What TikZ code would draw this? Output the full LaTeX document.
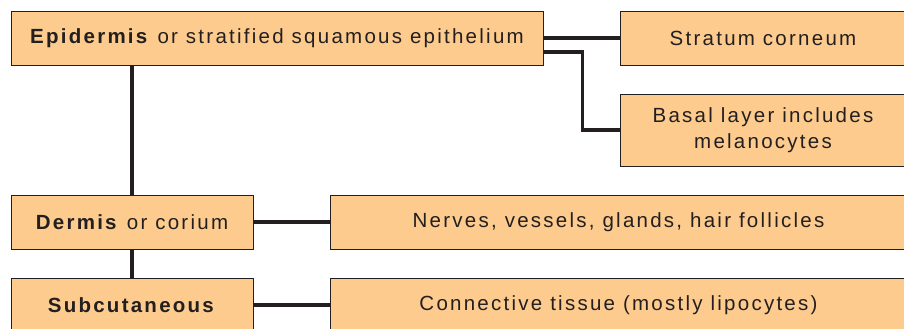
\documentclass[tikz,border=0pt]{standalone}
\usepackage{fontspec}
\setmainfont{Liberation Sans}[LetterSpace=11]
\usepackage{xcolor}
\usetikzlibrary{calc}
\definecolor{skinfill}{HTML}{FCCB8D}
\definecolor{inkgrey}{HTML}{231F20}

\begin{document}
\begin{tikzpicture}[every node/.style={font=\fontsize{17.5pt}{21.9pt}\selectfont, text=inkgrey},
  layer/.style={draw=inkgrey, line width=0.7pt, fill=skinfill, align=center, inner sep=0pt, minimum height=1.62cm},
  link/.style={draw=inkgrey, line width=2.6pt}]
  \useasboundingbox (0,0) rectangle (27.12,9.87);
  \clip (0,0) rectangle (27.12,9.87);
  \node[layer, minimum width=15.96cm] (epi) at (8.31,8.73) {\textbf{Epidermis} or stratified squamous epithelium};
  \node[layer, minimum width=8.58cm] (strat) at (22.89,8.73) {Stratum corneum};
  \node[layer, minimum width=8.58cm, minimum height=2.16cm] (basal) at (22.89,5.97) {Basal layer includes\\melanocytes};
  \node[layer, minimum width=7.26cm] (dermis) at (3.96,3.21) {\textbf{Dermis} or corium};
  \node[layer, minimum width=7.26cm] (subc) at (3.96,0.72) {\textbf{Subcutaneous}};
  \node[layer, minimum width=17.31cm] (nerves) at (18.555,3.21) {Nerves, vessels, glands, hair follicles};
  \node[layer, minimum width=17.31cm] (conn) at (18.555,0.72) {Connective tissue (mostly lipocytes)};
  \draw[link] (epi.east) -- (strat.west);
  \draw[link] ($(epi.east)+(0,-0.42)$) -| ($(basal.west)+(-1.11,0)$) -- (basal.west);
  \draw[link] (dermis.north |- epi.south) -- (dermis.north);
  \draw[link] (dermis.south) -- (subc.north);
  \draw[link] (dermis.east) -- (nerves.west);
  \draw[link] (subc.east) -- (conn.west);
\end{tikzpicture}
\end{document}
